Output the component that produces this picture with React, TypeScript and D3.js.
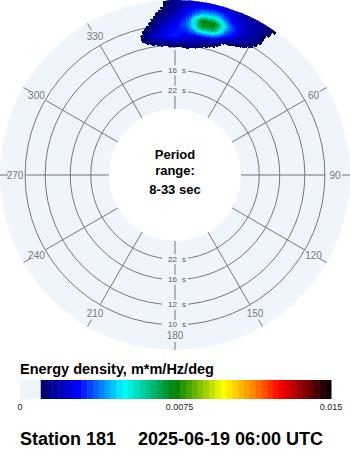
import React from 'react';
import * as d3 from 'd3';

// ---- data ----
const directions = [-20, -15, -10, -5, 0, 5, 10, 15, 20, 25, 30, 35, 40]; // deg, clockwise from N
const periods = [8, 8.5, 9, 9.5, 10, 11, 12, 13]; // seconds
const UNIT = 1e-4; // energy values below are in 1e-4 m*m/Hz/deg
const energy = [
  [3, 4, 6, 8, 14, 18, 20, 20, 18, 17, 15, 12, 6],
  [3, 4, 6, 8, 15, 22, 26, 26, 22, 19, 16, 9, 5],
  [3, 5, 7, 11, 18, 28, 44, 46, 30, 21, 17, 6, 4],
  [4, 6, 8, 15, 22, 36, 76, 74, 40, 22, 16, 5, 3],
  [5, 6, 11, 20, 27, 38, 70, 68, 34, 20, 12, 4, 2],
  [4, 9, 18, 27, 31, 25, 22, 19, 9, 6, 3, 2, 1],
  [2, 5, 8, 11, 12, 13, 11, 7, 4, 2, 1, 1, 1],
  [1, 2, 3, 3, 4, 4, 4, 3, 2, 1, 1, 1, 1],
];
const ringPeriods = [10, 12, 16, 22];
const angleTicks = [0, 30, 60, 90, 120, 150, 180, 210, 240, 270, 300, 330];
const angleLabels = ['0', '30', '60', '90', '120', '150', '180', '210', '240', '270', '300', '330'];
const colorStops = [0.001, 0.0028, 0.005, 0.0075, 0.0098, 0.0112, 0.0125, 0.015];
const colorRange = ['#000066', '#0000ff', '#00ffff', '#008000', '#ffff00', '#ff8c00', '#ff0000', '#000000'];
const barTicks = [0, 0.0075, 0.015];
const barTickLabels = ['0', '0.0075', '0.015'];
const periodRange = [8, 33];

const W = 350, H = 450;
const cx = 175, cy = 175;
const diskR = 175;
const DISK = '#eef5fc';
const GRID = '#777';

const rScale = d3.scaleLinear().domain([1 / 33, 1 / 8]).range([66, 180]);
const color = d3.scaleLinear<string>().domain(colorStops).range(colorRange).interpolate(d3.interpolateRgb).clamp(true);
const rad = (d: number) => (d * Math.PI) / 180;

const rowR = periods.map((p) => rScale(1 / p));

function valueAtRow(i: number, dir: number): number {
  const j = Math.min(directions.length - 2, Math.max(0, Math.floor((dir - directions[0]) / 5)));
  const u = (dir - directions[j]) / (directions[j + 1] - directions[j]);
  return (energy[i][j] * (1 - u) + energy[i][j + 1] * u) * UNIT;
}
function valueAt(dir: number, r: number): number {
  if (dir < directions[0] || dir > directions[directions.length - 1]) return 0;
  let i = -1;
  for (let k = 0; k < rowR.length - 1; k++) {
    if (r <= rowR[k] && r >= rowR[k + 1]) { i = k; break; }
  }
  if (i < 0) return r > rowR[0] ? valueAtRow(0, dir) : 0;
  const t = (rowR[i] - r) / (rowR[i] - rowR[i + 1]);
  return valueAtRow(i, dir) * (1 - t) + valueAtRow(i + 1, dir) * t;
}

export default function App() {
  const arc = d3.arc<any>();
  const cells: React.ReactNode[] = [];
  const dStep = 1, rStep = 1;
  for (let dir = directions[0]; dir < directions[directions.length - 1]; dir += dStep) {
    for (let r = 115; r < 180; r += rStep) {
      const v = valueAt(dir + dStep / 2, r + rStep / 2);
      if (v < colorStops[0]) continue;
      const path = arc({
        innerRadius: r,
        outerRadius: r + rStep + 0.6,
        startAngle: rad(dir),
        endAngle: rad(dir + dStep + 0.4),
      });
      cells.push(<path key={`${dir}_${r}`} d={path || ''} fill={color(v)} />);
    }
  }

  const bx = d3.scaleLinear().domain([0, 0.015]).range([20, 331]);
  const bands: React.ReactNode[] = [];
  const nb = 50;
  const step = (0.015 - 0.001) / nb;
  for (let k = 0; k < nb; k++) {
    const v0 = 0.001 + k * step;
    bands.push(
      <rect key={k} x={bx(v0)} y={380} width={bx(v0 + step) - bx(v0) + 0.5} height={19} fill={color(v0 + step / 2)} />
    );
  }

  const innerR = rScale(1 / periodRange[1]);
  const r10 = rScale(1 / 10);

  return (
    <svg width={W} height={H} style={{ position: 'absolute', left: 0, top: 0, background: '#fff' }}
      fontFamily="'Liberation Sans', Arial, sans-serif">
      <defs>
        <clipPath id="diskclip"><circle cx={0} cy={0} r={diskR} /></clipPath>
      </defs>
      <rect x={0} y={0} width={W} height={H} fill="#fff" />
      <circle cx={cx} cy={cy} r={diskR} fill={DISK} />
      <circle cx={cx} cy={cy} r={innerR} fill="#fff" />
      <g transform={`translate(${cx},${cy})`}>
        {ringPeriods.map((p) => (
          <circle key={p} r={rScale(1 / p)} fill="none" stroke={GRID} strokeWidth={1} />
        ))}
        {angleTicks.map((a) => (
          <line key={a} x1={innerR * Math.sin(rad(a))} y1={-innerR * Math.cos(rad(a))}
            x2={r10 * Math.sin(rad(a))} y2={-r10 * Math.cos(rad(a))} stroke={GRID} strokeWidth={1} />
        ))}
        {angleTicks.map((a) => (
          <line key={'t' + a} x1={167 * Math.sin(rad(a))} y1={-167 * Math.cos(rad(a))}
            x2={175 * Math.sin(rad(a))} y2={-175 * Math.cos(rad(a))} stroke={GRID} strokeWidth={1} />
        ))}
        {angleTicks.map((a, i) => (
          <text key={'l' + a} x={160 * Math.sin(rad(a))} y={-160 * Math.cos(rad(a))} textAnchor="middle"
            dominantBaseline="central" fontSize={10} fill="#777">{angleLabels[i]}</text>
        ))}
        {ringPeriods.map((p) =>
          [-1, 1].map((s) => {
            const y = s * rScale(1 / p);
            return (
              <g key={p + '_' + s}>
                <rect x={-13} y={y - 5} width={26} height={10} fill={DISK} />
                <text x={2} y={y} textAnchor="end" dominantBaseline="central" fontSize={8} fill="#555">{p}</text>
                <text x={7} y={y} textAnchor="start" dominantBaseline="central" fontSize={8} fill="#555">s</text>
              </g>
            );
          })
        )}
        <g clipPath="url(#diskclip)" shapeRendering="crispEdges">
          {cells}
        </g>
      </g>
      <g fontWeight="bold" fontSize={13} fill="#000" textAnchor="middle">
        <text x={cx} y={159}>Period</text>
        <text x={cx} y={175}>range:</text>
        <text x={cx} y={194}>{`${periodRange[0]}-${periodRange[1]} sec`}</text>
      </g>
      <text x={20} y={374} fontWeight="bold" fontSize={14.5} fill="#000">Energy density, m*m/Hz/deg</text>
      <rect x={bx(0)} y={380} width={bx(0.001) - bx(0)} height={19} fill={DISK} />
      {bands}
      {barTicks.map((t, i) => (
        <text key={t} x={bx(t) + (i === 1 ? 4 : 0)} y={410} textAnchor="middle" fontSize={9} fill="#222">{barTickLabels[i]}</text>
      ))}
      <text x={20} y={445} fontWeight="bold" fontSize={18} fill="#000">Station 181</text>
      <text x={138} y={445} fontWeight="bold" fontSize={18} fill="#000">2025-06-19 06:00 UTC</text>
    </svg>
  );
}
